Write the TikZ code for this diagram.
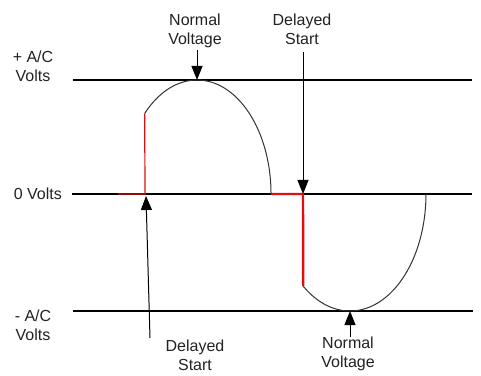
\documentclass[tikz,border=0pt]{standalone}
\usepackage{fontspec}
\setmainfont{Liberation Sans}
\usetikzlibrary{arrows.meta}
\definecolor{txt}{HTML}{222222}
\definecolor{curve}{HTML}{333333}
\definecolor{redline}{HTML}{E01010}
\tikzset{
  lbl/.style={align=center,inner sep=0pt,text=txt,font=\fontsize{16}{19}\selectfont},
  axisline/.style={draw=black,line width=1.3pt},
  zeroline/.style={draw=black,line width=2.5pt},
  wave/.style={draw=curve,line width=1pt},
  redthin/.style={draw=redline,line width=1.2pt},
  redthick/.style={draw=redline,line width=2.4pt},
  arr/.style={draw=black,line width=1pt,-{Triangle[length=14pt,width=11pt]}}
}
\begin{document}
\begin{tikzpicture}[x=1pt,y=1pt]
\useasboundingbox (0,0) rectangle (481,375);
% horizontal reference lines
\coordinate (tl) at (73,295); \coordinate (tr) at (472,295);
\coordinate (ml) at (72,181); \coordinate (mr) at (472,181);
\coordinate (bl) at (73,64); \coordinate (br) at (473,64);
\draw[axisline] (tl) -- (tr);
\draw[axisline,line width=1.6pt] (bl) -- (br);
\draw[zeroline] (ml) -- (mr);
% left labels
\node[lbl] (plus) at (33,309) {+ A/C\\Volts};
\node[lbl,anchor=east] (zero) at (62,181) {0 Volts};
\node[lbl] (minus) at (33,50) {- A/C\\Volts};
% positive half wave
\coordinate (p0) at (118,181);
\coordinate (p1) at (145,181);
\coordinate (p2) at (144.7,261.6);
\draw[wave] (p2) arc[start angle=135,end angle=0,x radius=74,y radius=114] coordinate (p3);
\draw[redthin] (p0) -- (p1) -- (p2);
% negative half wave
\coordinate (n0) at (303,181);
\coordinate (n1) at (303.2,88.8);
\draw[wave] (n1) arc[start angle=232,end angle=360,x radius=76,y radius=117] coordinate (n2);
\draw[redthick] (p3) -- (n0) -- (n1);
% labels with arrows
\node[lbl] (nvTop) at (195,344) {Normal\\Voltage};
\node[lbl] (dsTop) at (302,346) {Delayed\\Start};
\node[lbl] (dsBot) at (195,20) {Delayed\\Start};
\node[lbl] (nvBot) at (348,21) {Normal\\Voltage};
\coordinate (a1s) at (197,325); \coordinate (a1e) at (197,295);
\coordinate (a2s) at (303,323); \coordinate (a2e) at (303,181);
\coordinate (a3s) at (150,37); \coordinate (a3e) at (146,179);
\coordinate (a4s) at (350,38); \coordinate (a4e) at (350,64);
\draw[arr] (a1s) -- (a1e);
\draw[arr] (a2s) -- (a2e);
\draw[arr] (a3s) -- (a3e);
\draw[arr] (a4s) -- (a4e);
\end{tikzpicture}
\end{document}
